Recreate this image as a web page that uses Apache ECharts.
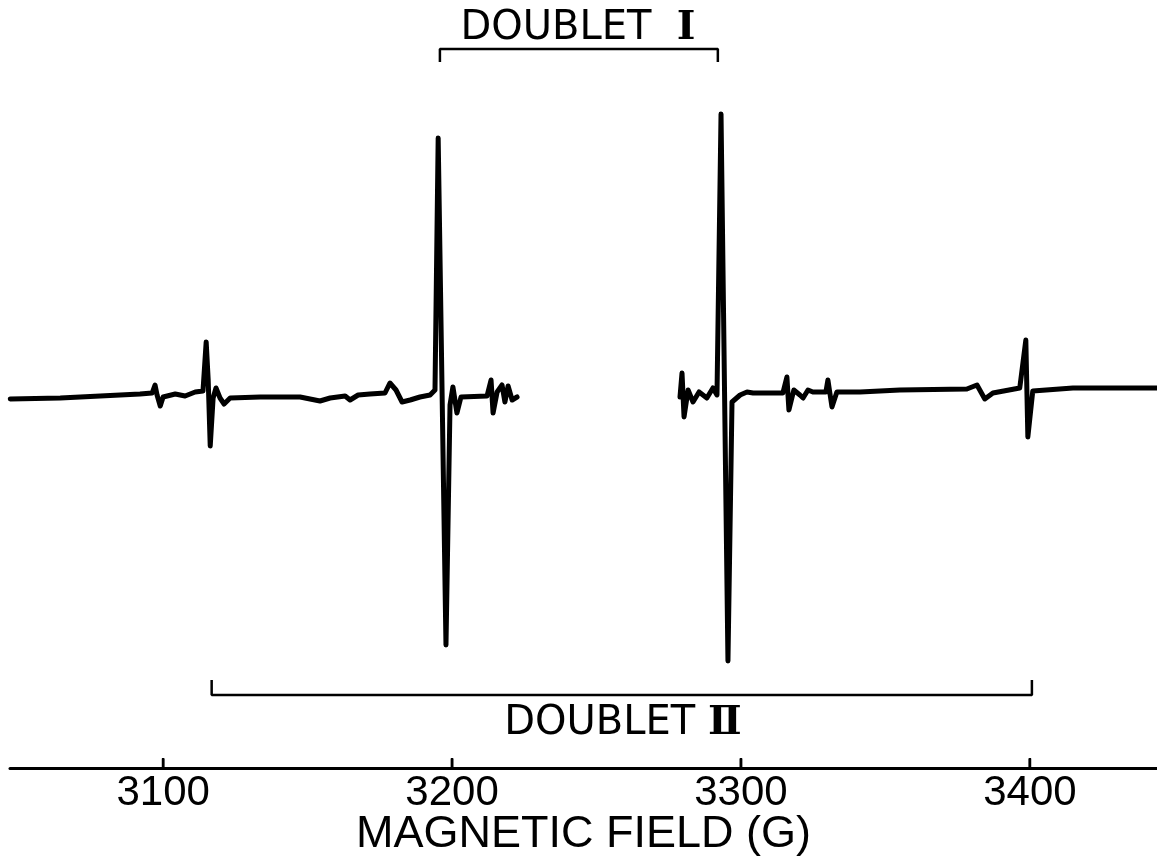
<!DOCTYPE html>
<html>
<head>
<meta charset="utf-8">
<script src="https://cdn.jsdelivr.net/npm/echarts@6/dist/echarts.min.js"></script>
<style>
html,body{margin:0;padding:0;background:#fff;}
#chart{width:1157px;height:857px;}
</style>
</head>
<body>
<div id="chart"></div>
<script>
// Magnetic field (G) and EPR signal (arbitrary units), left scan segment
const leftField = [3047.1,3064.4,3078.2,3092.0,3096.2,3097.2,3097.9,3099.0,3100.0,3104.2,3107.6,3111.1,3113.8,3114.9,3115.6,3116.3,3117.3,3118.3,3119.7,3121.1,3123.2,3133.6,3147.4,3154.3,3157.8,3163.0,3164.7,3167.5,3171.6,3176.8,3178.5,3180.6,3182.7,3185.5,3188.9,3192.4,3194.1,3195.2,3197.9,3199.3,3200.3,3201.7,3203.1,3212.1,3213.5,3214.2,3215.6,3217.3,3218.3,3219.4,3220.8,3222.5];
const leftSignal = [-1,0,2,4,5,13,3,-8,1,4,2,6,7,56,18,-48,0,10,0,-6,0,1,1,-3,0,2,-2,3,4,5,15,8,-4,-2,1,3,8,260,-247,-7,11,-15,1,2,18,-15,6,13,-4,12,-2,1];
// right scan segment
const rightField = [3278.9,3279.6,3280.3,3281.7,3283.4,3285.5,3288.2,3290.3,3291.7,3293.1,3295.5,3296.9,3299.7,3302.1,3304.2,3314.5,3315.9,3316.6,3318.3,3320.4,3321.5,3323.2,3324.9,3329.4,3330.1,3331.5,3333.2,3341.2,3355.0,3378.2,3381.7,3384.4,3387.2,3396.5,3398.6,3399.3,3401.0,3414.9,3443.9];
const rightSignal = [1,25,-19,8,-4,6,0,10,3,284,-263,-4,3,6,5,5,21,-12,8,3,0,8,6,6,18,-9,6,6,8,9,13,-1,5,10,58,-39,7,10,10];
// bracket annotations (field, level)
const doublet1Field = [3195.8,3195.8,3292.0,3292.0];
const doublet1Level = [336,349,349,336];
const doublet2Field = [3116.8,3116.8,3400.7,3400.7];
const doublet2Level = [-282,-297,-297,-282];
const tickValues = [3100,3200,3300,3400];
const axisTitle = 'MAGNETIC FIELD (G)';
const doubletWord = 'DOUBLET';
const doublet1Numeral = 'Ⅰ';
const doublet2Numeral = 'Ⅱ';

const zip = (a,b)=>a.map((x,i)=>[x,b[i]]);
const FONT = '"Liberation Sans", Arial, sans-serif';
const FONT2 = '"DejaVu Sans", sans-serif';
const Y_MIN = -370, Y_MAX = 398;
const TICK_LEN = 9;

const numeralRich = {n:{fontFamily:'"DejaVu Serif", serif',fontWeight:'bold',fontSize:40,fill:'#000'}};

const tickSeries = tickValues.map(t => ({
  type:'line', data:[[t, Y_MIN + 1], [t, Y_MIN + 1 + TICK_LEN]], showSymbol:false, symbol:'none',
  clip:false, z:10, lineStyle:{color:'#000', width:2.5}
}));

const chart = echarts.init(document.getElementById('chart'), null, {renderer:'canvas'});
chart.setOption({
  backgroundColor:'#fff',
  animation:false,
  grid:{left:10,right:0,top:0,bottom:89,containLabel:false,outerBoundsMode:'none'},
  xAxis:{
    type:'value', min:3047, max:3444,
    axisLine:{show:true,onZero:false,lineStyle:{color:'#000',width:3}},
    axisTick:{show:false},
    axisLabel:{show:true,margin:4,color:'#000',fontSize:42,fontFamily:FONT,customValues:tickValues,
      formatter:(v)=>String(v)},
    splitLine:{show:false},
    name:axisTitle, nameLocation:'middle', nameGap:44, nameMoveOverlap:false,
    nameTextStyle:{color:'#000',fontSize:45,fontFamily:FONT}
  },
  yAxis:{type:'value',min:Y_MIN,max:Y_MAX,show:false,splitLine:{show:false}},
  series:[
    {type:'line',data:zip(leftField,leftSignal),showSymbol:false,symbol:'none',
     lineStyle:{color:'#000',width:5,join:'round',cap:'round'}},
    {type:'line',data:zip(rightField,rightSignal),showSymbol:false,symbol:'none',
     lineStyle:{color:'#000',width:5,join:'round',cap:'round'}},
    {type:'line',data:zip(doublet1Field,doublet1Level),showSymbol:false,symbol:'none',
     lineStyle:{color:'#000',width:2.5}},
    {type:'line',data:zip(doublet2Field,doublet2Level),showSymbol:false,symbol:'none',
     lineStyle:{color:'#000',width:2.5}}
  ].concat(tickSeries),
  graphic:[
    {type:'text',x:578,y:29,style:{text:doubletWord+'  {n|'+doublet1Numeral+'}',rich:numeralRich,
      fill:'#000',font:'40px '+FONT2,align:'center',verticalAlign:'middle'}},
    {type:'text',x:623,y:724,style:{text:doubletWord+' {n|'+doublet2Numeral+'}',rich:numeralRich,
      fill:'#000',font:'40px '+FONT2,align:'center',verticalAlign:'middle'}}
  ]
});

// also place tick marks through the axis scale as graphic lines
const tickGraphics = tickValues.map(t => {
  const p0 = chart.convertToPixel({gridIndex:0}, [t, Y_MIN]);
  const p1 = chart.convertToPixel({gridIndex:0}, [t, Y_MIN + TICK_LEN]);
  return {type:'line', shape:{x1:p0[0], y1:p0[1], x2:p1[0], y2:p1[1]},
          style:{stroke:'#000', lineWidth:2.5}, z:100};
});
chart.setOption({graphic: tickGraphics.map((g,i)=>Object.assign({id:'tick'+i}, g))});
</script>
</body>
</html>
